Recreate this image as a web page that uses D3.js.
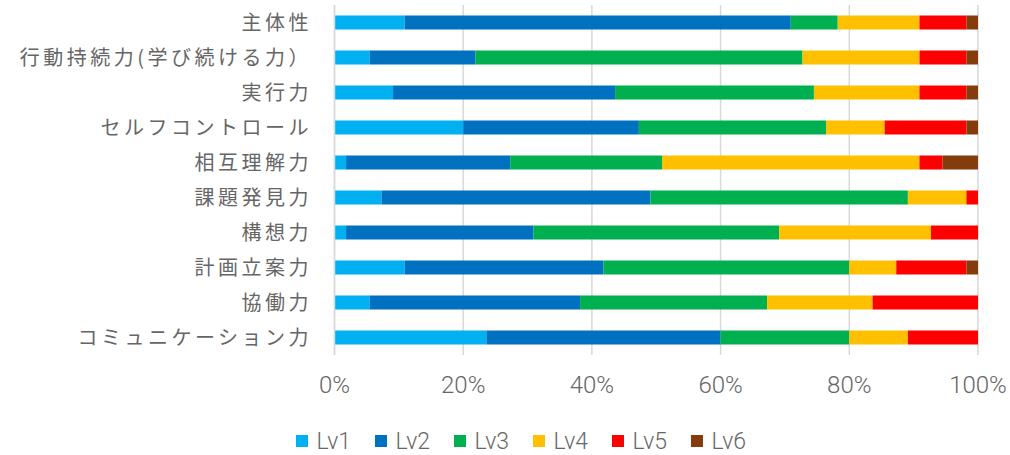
<!DOCTYPE html>
<html>
<head>
<meta charset="utf-8">
<script src="https://cdn.jsdelivr.net/npm/d3@7"></script>
<style>
  html, body { margin: 0; padding: 0; background: #fff; }
  svg { display: block; font-family: "Noto Sans CJK JP", "Noto Sans", sans-serif; }
</style>
</head>
<body>
<div id="container"></div>
<script>
const width = 1010, height = 455;

// categories, top to bottom
const categories = [
  "主体性", "行動持続力(学び続ける力）", "実行力", "セルフコントロール", "相互理解力",
  "課題発見力", "構想力", "計画立案力", "協働力", "コミュニケーション力"
];
const levels = ["Lv1", "Lv2", "Lv3", "Lv4", "Lv5", "Lv6"];
const colors = ["#00B0F0", "#0070C0", "#00B050", "#FFC000", "#FF0000", "#843C0C"];

// share (%) of each level per category, same order as categories
const lv1 = [10.9, 5.5, 9.1, 20.0, 1.8, 7.3, 1.8, 10.9, 5.5, 23.6];
const lv2 = [60.0, 16.4, 34.5, 27.3, 25.5, 41.8, 29.1, 30.9, 32.7, 36.4];
const lv3 = [7.3, 50.9, 30.9, 29.1, 23.6, 40.0, 38.2, 38.2, 29.1, 20.0];
const lv4 = [12.7, 18.2, 16.4, 9.1, 40.0, 9.1, 23.6, 7.3, 16.4, 9.1];
const lv5 = [7.3, 7.3, 7.3, 12.7, 3.6, 1.8, 7.3, 10.9, 16.4, 10.9];
const lv6 = [1.8, 1.8, 1.8, 1.8, 5.5, 0, 0, 1.8, 0, 0];

const xTicks = [0, 0.2, 0.4, 0.6, 0.8, 1];

const rows = categories.map((c, i) => ({
  cat: c, Lv1: lv1[i], Lv2: lv2[i], Lv3: lv3[i], Lv4: lv4[i], Lv5: lv5[i], Lv6: lv6[i]
}));

const margin = { top: 5, right: 32, bottom: 100, left: 334.5 };
const iw = width - margin.left - margin.right;
const ih = height - margin.top - margin.bottom;
const ink = "#666666";

const svg = d3.select("#container").append("svg")
  .attr("width", width).attr("height", height);
const g = svg.append("g").attr("transform", `translate(${margin.left},${margin.top})`);

const x = d3.scaleLinear().domain([0, 1]).range([0, iw]);
const y = d3.scaleBand().domain(categories).range([0, ih]).paddingInner(0.6).paddingOuter(0.3);

// vertical gridlines
g.selectAll(".grid").data(xTicks).join("line")
  .attr("x1", d => x(d)).attr("x2", d => x(d))
  .attr("y1", 0).attr("y2", ih)
  .attr("stroke", "#d9d9d9").attr("stroke-width", 1.5);

const series = d3.stack().keys(levels).offset(d3.stackOffsetExpand)(rows);

g.selectAll(".series").data(series).join("g")
  .attr("fill", (d, i) => colors[i])
  .selectAll("rect").data(d => d).join("rect")
  .attr("x", d => x(d[0]))
  .attr("width", d => Math.max(0, x(d[1]) - x(d[0])))
  .attr("y", d => y(d.data.cat))
  .attr("height", y.bandwidth());

// category axis line
g.append("line")
  .attr("x1", 0).attr("x2", 0).attr("y1", 0).attr("y2", ih)
  .attr("stroke", "#d9d9d9").attr("stroke-width", 1.5);

// category labels (wide tracking like the original)
g.selectAll(".cat").data(categories).join("text")
  .attr("x", -22.5)
  .attr("y", d => y(d) + y.bandwidth() / 2)
  .attr("dy", "0.36em")
  .attr("text-anchor", "end")
  .attr("fill", ink)
  .style("font-size", "20px")
  .style("letter-spacing", "3.5px")
  .text(d => d);

// x tick labels
g.selectAll(".xt").data(xTicks).join("text")
  .attr("x", d => x(d))
  .attr("y", ih + 30)
  .attr("dy", "0.35em")
  .attr("text-anchor", "middle")
  .attr("fill", ink)
  .style("font-family", "Roboto, sans-serif")
  .style("font-weight", "300")
  .style("font-size", "24px")
  .text(d3.format(".0%"));

// legend
const leg = svg.append("g").attr("transform", "translate(296,441)");
levels.forEach((lv, i) => {
  const lg = leg.append("g").attr("transform", `translate(${i * 79},0)`);
  lg.append("rect").attr("x", 0).attr("y", -6).attr("width", 12).attr("height", 12).attr("fill", colors[i]);
  lg.append("text").attr("x", 20.5).attr("y", 0).attr("dy", "0.36em")
    .attr("fill", ink)
    .style("font-family", "Roboto, sans-serif")
    .style("font-weight", "300")
    .style("font-size", "23px")
    .text(lv);
});
</script>
</body>
</html>
